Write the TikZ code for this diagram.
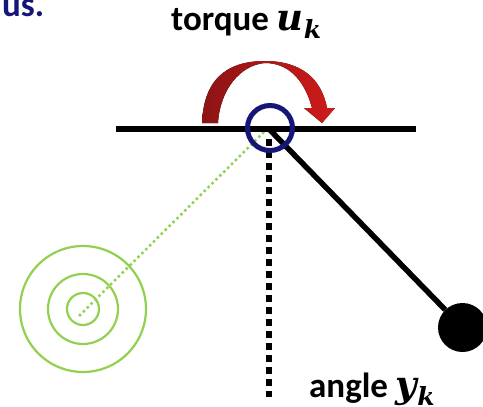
\documentclass[tikz,border=0pt]{standalone}
\usepackage{fontspec}
\setmainfont{Carlito}
\newfontfamily\varfont{DejaVu Serif}
\definecolor{navy}{RGB}{22,22,120}
\definecolor{grn}{RGB}{146,208,80}
\definecolor{arcl}{RGB}{140,20,20}
\definecolor{arcr}{RGB}{208,26,26}
\newcommand{\varsym}[2]{{\varfont\bfseries\itshape\fontsize{37}{37}\selectfont #1\raisebox{-8pt}{\fontsize{25}{25}\selectfont #2}}}
\tikzset{
 lbl/.style={font=\fontsize{35}{35}\selectfont\bfseries,inner sep=0pt,anchor=base west},
 ring/.style={draw=grn,line width=2.2pt,fill=none}}
\begin{document}
\begin{tikzpicture}[x=1pt,y=-1pt]
\useasboundingbox (0,0) rectangle (483,407);
\clip (0,0) rectangle (483,407);
\node[lbl,text=navy] (us) at (2,16.5) {us.};
\node[lbl] (tq) at (171,30) {torque \varsym{u}{k}};
\node[lbl] (ang) at (309,397) {angle \varsym{y}{k}};
\coordinate (piv) at (268,128);
\coordinate (gc) at (79,316);
\node[ring,circle,minimum size=126pt,inner sep=0pt] (r1) at (83,309) {};
\node[ring,circle,minimum size=70pt,inner sep=0pt] (r2) at (83,309) {};
\node[ring,circle,minimum size=32pt,inner sep=0pt] (r3) at (83,309) {};
\draw[grn,line width=2.5pt,dash pattern=on 2.5pt off 3pt] (piv) -- (gc);
\draw[line width=6pt] (116,129) -- (416,129);
\draw[line width=6pt,dash pattern=on 6.5pt off 5.5pt] (269,139) -- (269,397);
\node[circle,fill=black,minimum size=49pt,inner sep=0pt] (bob) at (462.5,327.5) {};
\draw[line width=5.5pt] (270,130) -- (bob);
\fill[left color=arcl,right color=arcr]
 (202,123) .. controls (204,72) and (235,61) .. (265,61)
 .. controls (298,61) and (321,76) .. (327,108) -- (335,108) -- (322,123) -- (304,108) -- (312,108)
 .. controls (304,78) and (287,63) .. (265,63)
 .. controls (240,65) and (220,90) .. (218,123) -- cycle;
\node[circle,draw=navy,line width=5pt,minimum width=45pt,minimum height=42pt,inner sep=0pt] (hub) at (270,128) {};
\end{tikzpicture}
\end{document}
